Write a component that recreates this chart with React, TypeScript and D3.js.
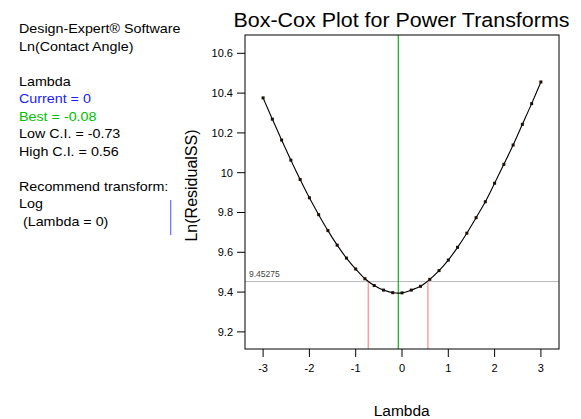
import React from "react";
import * as d3 from "d3";

const lambdas = [-3, -2.8, -2.6, -2.4, -2.2, -2, -1.8, -1.6, -1.4, -1.2, -1, -0.8, -0.6, -0.4, -0.2, 0, 0.2, 0.4, 0.6, 0.8, 1, 1.2, 1.4, 1.6, 1.8, 2, 2.2, 2.4, 2.6, 2.8, 3];
const lnResidualSS = [10.376, 10.269, 10.164, 10.063, 9.966, 9.874, 9.789, 9.709, 9.636, 9.571, 9.516, 9.467, 9.433, 9.41, 9.397, 9.396, 9.41, 9.429, 9.464, 9.508, 9.561, 9.625, 9.696, 9.774, 9.854, 9.947, 10.042, 10.139, 10.243, 10.347, 10.456];
const xTicks = [-3, -2, -1, 0, 1, 2, 3];
const yTicks = [9.2, 9.4, 9.6, 9.8, 10, 10.2, 10.4, 10.6];
const bestLambda = -0.08;
const lowCI = -0.73;
const highCI = 0.56;
const ciThreshold = 9.45275;
const infoLines: { text: string; color: string }[] = [
  { text: "Design-Expert® Software", color: "#000" },
  { text: "Ln(Contact Angle)", color: "#000" },
  { text: "", color: "#000" },
  { text: "Lambda", color: "#000" },
  { text: "Current = 0", color: "#1a1aff" },
  { text: "Best = -0.08", color: "#00c000" },
  { text: "Low C.I. = -0.73", color: "#000" },
  { text: "High C.I. = 0.56", color: "#000" },
  { text: "", color: "#000" },
  { text: "Recommend transform:", color: "#000" },
  { text: "Log", color: "#000" },
  { text: " (Lambda = 0)", color: "#000" },
];

export default function App() {
  const W = 581, H = 419;
  const left = 245, right = 559, top = 35, bottom = 349;
  const x = d3.scaleLinear().domain([-3.391, 3.391]).range([left, right]);
  const y = d3.scaleLinear().domain([9.114, 10.692]).range([bottom, top]);
  const pts = lambdas.map((l, i) => [l, lnResidualSS[i]] as [number, number]);
  const line = d3.line<[number, number]>().x(d => x(d[0])).y(d => y(d[1])).curve(d3.curveCatmullRom);
  const font = "Arial, 'Liberation Sans', Helvetica, sans-serif";
  return (
    <svg width={W} height={H} style={{ position: "absolute", left: 0, top: 0 }} fontFamily={font}>
      <rect x={0} y={0} width={W} height={H} fill="#fff" />
      {/* info panel */}
      {infoLines.map((l, i) => (
        <text key={i} transform={`translate(19,${33.3 + i * 17.5}) scale(1.1,1)`} fontSize={13} fill={l.color} style={{ whiteSpace: "pre" }}>
          {l.text}
        </text>
      ))}
      <line x1={170.7} x2={170.7} y1={200} y2={235} stroke="#6b6bff" strokeWidth={1.2} />
      {/* title */}
      <text transform={`translate(401.5,27) scale(1.1,1)`} textAnchor="middle" fontSize={19.5} fill="#000">
        Box-Cox Plot for Power Transforms
      </text>
      {/* CI threshold */}
      <line x1={left} x2={right} y1={y(ciThreshold)} y2={y(ciThreshold)} stroke="#b8b8b8" strokeWidth={1} />
      <text x={left + 4} y={y(ciThreshold) - 4.5} fontSize={8.5} fill="#444">{String(ciThreshold)}</text>
      <line x1={x(lowCI)} x2={x(lowCI)} y1={y(ciThreshold)} y2={bottom} stroke="#ff7070" strokeWidth={1} />
      <line x1={x(highCI)} x2={x(highCI)} y1={y(ciThreshold)} y2={bottom} stroke="#ff7070" strokeWidth={1} />
      <line x1={x(bestLambda)} x2={x(bestLambda)} y1={top} y2={bottom} stroke="#10b010" strokeWidth={1.2} />
      {/* curve */}
      <path d={line(pts) || ""} fill="none" stroke="#000" strokeWidth={1.1} />
      {pts.map((p, i) => (
        <rect key={i} x={x(p[0]) - 1.5} y={y(p[1]) - 1.5} width={3} height={3} fill="#1a1008" />
      ))}
      {/* frame */}
      <rect x={left} y={top} width={right - left} height={bottom - top} fill="none" stroke="#000" strokeWidth={1} />
      {/* y axis */}
      {yTicks.map(t => (
        <g key={t}>
          <line x1={left - 8} x2={left} y1={y(t)} y2={y(t)} stroke="#000" />
          <text x={left - 12} y={y(t)} dy="0.35em" textAnchor="end" fontSize={11} fill="#000">{String(t)}</text>
        </g>
      ))}
      {/* x axis */}
      {xTicks.map(t => (
        <g key={t}>
          <line x1={x(t)} x2={x(t)} y1={bottom} y2={bottom + 8} stroke="#000" />
          <text x={x(t)} y={371.5} textAnchor="middle" fontSize={11} fill="#000">{String(t)}</text>
        </g>
      ))}
      <text x={401.7} y={416} textAnchor="middle" fontSize={15.5} fill="#000">Lambda</text>
      <text transform="translate(197,185.5) rotate(-90)" textAnchor="middle" fontSize={16} fill="#000">Ln(ResidualSS)</text>
    </svg>
  );
}
